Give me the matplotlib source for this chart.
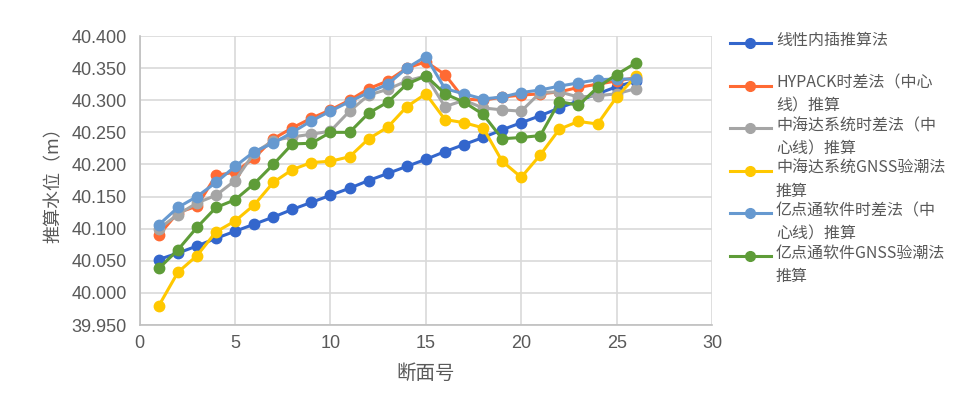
import matplotlib
matplotlib.use("Agg")
import matplotlib.pyplot as plt
from matplotlib.lines import Line2D
from matplotlib.ticker import FormatStrFormatter, MultipleLocator

plt.rcParams['font.family'] = ['Noto Sans CJK SC', 'DejaVu Sans']

sections = list(range(1, 27))

linear = [40.052, 40.062, 40.073, 40.085, 40.096, 40.107, 40.118, 40.130, 40.141,
          40.152, 40.163, 40.175, 40.186, 40.197, 40.208, 40.220, 40.231, 40.242,
          40.254, 40.265, 40.276, 40.288, 40.299, 40.310, 40.321, 40.330]
hypack = [40.090, 40.125, 40.135, 40.183, 40.188, 40.210, 40.240, 40.257, 40.272,
          40.285, 40.300, 40.318, 40.330, 40.350, 40.360, 40.340, 40.302, 40.300,
          40.305, 40.308, 40.310, 40.313, 40.320, 40.325, 40.330, 40.335]
zhd_time = [40.100, 40.122, 40.140, 40.152, 40.175, 40.218, 40.237, 40.243, 40.247,
            40.252, 40.283, 40.308, 40.317, 40.330, 40.338, 40.290, 40.300, 40.288,
            40.285, 40.283, 40.312, 40.313, 40.305, 40.307, 40.310, 40.318]
zhd_gnss = [39.980, 40.032, 40.058, 40.095, 40.112, 40.137, 40.172, 40.192, 40.203,
            40.205, 40.212, 40.240, 40.258, 40.290, 40.310, 40.270, 40.265, 40.257,
            40.205, 40.180, 40.215, 40.255, 40.267, 40.263, 40.305, 40.337]
ydt_time = [40.106, 40.133, 40.150, 40.172, 40.197, 40.220, 40.233, 40.250, 40.268,
            40.283, 40.298, 40.312, 40.325, 40.350, 40.368, 40.318, 40.310, 40.302,
            40.305, 40.312, 40.316, 40.322, 40.327, 40.332, 40.333, 40.333]
ydt_gnss = [40.038, 40.067, 40.102, 40.133, 40.145, 40.170, 40.200, 40.232, 40.233,
            40.250, 40.250, 40.280, 40.297, 40.325, 40.338, 40.310, 40.297, 40.278,
            40.240, 40.242, 40.245, 40.298, 40.292, 40.320, 40.340, 40.358]

labels = ["线性内插推算法",
          "HYPACK时差法（中心\n线）推算",
          "中海达系统时差法（中\n心线）推算",
          "中海达系统GNSS验潮法\n推算",
          "亿点通软件时差法（中\n心线）推算",
          "亿点通软件GNSS验潮法\n推算"]
series = [linear, hypack, zhd_time, zhd_gnss, ydt_time, ydt_gnss]
colors = ["#3366CC", "#FF6A33", "#A5A5A5", "#FFC800", "#6699D0", "#5E9C38"]

txt = "#595959"
fig = plt.figure(figsize=(9.57, 3.98), dpi=100)
ax = fig.add_axes([0.146, 0.1834, 0.598, 0.7261])

for vals, c in zip(series, colors):
    ax.plot(sections, vals, color=c, lw=2.2, marker="o", ms=7.5, zorder=3)

ax.set_xlim(0, 30)
ax.set_ylim(39.95, 40.40)
ax.xaxis.set_major_locator(MultipleLocator(5))
ax.yaxis.set_major_locator(MultipleLocator(0.05))
ax.yaxis.set_major_formatter(FormatStrFormatter("%.3f"))
ax.grid(True, color="#D9D9D9", lw=1.2)
ax.set_axisbelow(True)
for s in ["top", "right"]:
    ax.spines[s].set_visible(False)
for s in ["left", "bottom"]:
    ax.spines[s].set_color("#BFBFBF")
    ax.spines[s].set_linewidth(1.2)
ax.tick_params(length=0, labelsize=13, labelcolor=txt)
ax.tick_params(axis="y", pad=9.5)
ax.tick_params(axis="x", pad=7)
for t in ax.get_xticklabels() + ax.get_yticklabels():
    t.set_fontfamily("Liberation Sans")
ax.set_xlabel("断面号", fontsize=14, color=txt, labelpad=8)
ax.set_ylabel("推算水位（m）", fontsize=13, color=txt, labelpad=6)

# legend drawn by hand (Excel style: handle next to first text line)
W, H = 957, 398
for i, (lab, c) in enumerate(zip(labels, colors)):
    yp = 43 + 42.6 * i
    yf = 1 - yp / H
    fig.add_artist(Line2D([730 / W, 771 / W], [yf, yf], color=c, lw=2.2,
                          transform=fig.transFigure))
    fig.add_artist(Line2D([750 / W], [yf], color=c, marker="o", ms=7,
                          transform=fig.transFigure))
    fig.text(776 / W, 1 - (yp - 11) / H, lab, fontsize=11.5, color=txt,
             va="top", ha="left", linespacing=1.45)

fig.savefig("out.png", dpi=100)
